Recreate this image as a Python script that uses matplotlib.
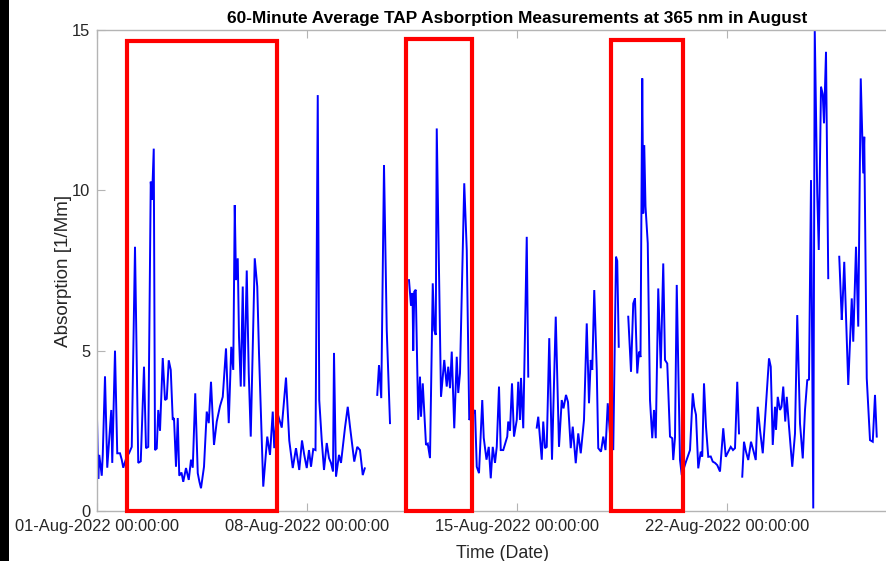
import numpy as np
import pandas as pd
import matplotlib
matplotlib.use("Agg")
import matplotlib.pyplot as plt
import matplotlib.dates as mdates
from matplotlib.patches import Rectangle

plt.rcParams["font.family"] = ["Liberation Sans", "DejaVu Sans"]

START = pd.Timestamp("2022-08-01 00:00:00")

# Hourly-averaged TAP absorption at 365 nm [1/Mm]; hours counted from 01-Aug 00:00.
# Each block is one continuous run of valid averages; gaps are missing data.
hours_aug01_09 = [0.0, 1.0, 1.8, 3.8, 4.6, 6.4, 8.2, 11.4, 12.2, 14.4, 16.2, 18.4, 19.8, 21.0,
                  23.8, 25.6, 27.8, 30.4, 33.0, 35.0, 37.6, 39.2, 41.0, 43.0, 44.0, 45.4, 46.4,
                  47.8, 49.0, 50.4, 52.6, 54.4, 55.8, 57.4, 59.0, 60.6, 61.6, 63.2, 64.6, 65.8,
                  67.6, 69.0, 71.2, 73.4, 75.2, 76.6, 78.6, 80.6, 82.0, 83.2, 85.6, 87.8, 89.4,
                  91.2, 93.6, 95.8, 98.4, 100.6, 103.2, 105.4, 107.4, 109.0, 110.2, 111.2, 112.6,
                  113.6, 115.0, 116.6, 117.8, 119.8, 121.4, 123.0, 126.2, 128.2, 129.6, 133.0,
                  136.2, 138.4, 140.6, 141.8, 144.0, 147.8, 151.2, 153.8, 156.6, 159.2, 161.8,
                  164.0, 165.8, 167.8, 169.6, 171.2, 173.0, 174.8, 176.6, 177.8, 179.8, 181.6,
                  183.8, 185.6, 187.2, 188.8, 189.6, 191.2, 193.6, 195.2, 198.4, 200.6, 202.4,
                  205.8, 208.2, 210.4, 212.6, 214.2]
abs_aug01_09 = [2.9, 1.0, 1.75, 1.1, 1.75, 4.2, 1.35, 3.15, 1.5, 5.0, 1.8, 1.8, 1.6, 1.35,
                1.7, 1.8, 2.0, 8.24, 1.5, 1.55, 4.5, 1.96, 2.0, 10.27, 9.7, 11.3, 1.9,
                1.95, 3.15, 2.5, 4.77, 3.46, 3.5, 4.7, 4.4, 2.84, 2.9, 1.38, 2.9, 1.1,
                1.2, 0.91, 1.34, 0.97, 1.6, 1.35, 3.67, 1.18, 0.9, 0.71, 1.38, 3.1, 2.74,
                4.03, 2.06, 2.79, 3.27, 3.56, 5.07, 2.74, 5.12, 4.4, 9.54, 7.2, 7.88,
                5.43, 3.88, 7.0, 3.88, 7.5, 4.3, 2.32, 7.88, 7.0, 4.92, 0.76,
                2.32, 1.75, 3.1, 1.96, 3.1, 2.6, 4.16, 2.2, 1.34, 1.96, 1.28,
                2.2, 1.75, 1.34, 1.9, 1.38, 1.93, 1.9, 12.97, 3.46, 2.2, 1.28,
                2.12, 1.65, 1.5, 1.23, 4.93, 1.07, 1.75, 1.5, 2.6, 3.25, 2.63,
                1.54, 2.0, 1.9, 1.12, 1.33]

hours_aug10 = [224.2, 225.6, 227.4, 229.6, 231.8, 234.4]
abs_aug10 = [3.62, 4.55, 3.52, 10.79, 5.64, 2.74]

hours_aug11_15 = [249.6, 251.2, 252.4, 253.0, 253.8, 255.0, 257.0, 258.4, 259.2, 260.6, 263.2,
                  264.6, 266.4, 268.6, 269.8, 271.0, 271.8, 275.2, 277.8, 279.8, 281.0, 282.4,
                  283.8, 285.8, 287.8, 289.0, 290.4, 293.8, 295.8, 297.8, 299.0, 302.4, 303.8,
                  305.6, 308.2, 309.4, 311.6, 313.4, 315.0, 316.6, 318.4, 319.8, 321.6, 323.0,
                  325.0, 328.2, 329.0, 330.4, 332.0, 333.6, 335.8, 337.0, 338.4, 339.2, 341.0,
                  343.8, 345.0]
abs_aug11_15 = [7.2, 6.4, 6.8, 5.0, 6.84, 6.9, 2.84, 4.19, 2.94, 3.98, 2.06,
                2.1, 1.65, 7.1, 5.64, 5.49, 11.93, 3.56, 4.71, 3.88, 4.5, 3.83,
                4.97, 2.58, 4.81, 3.68, 4.3, 10.22, 8.14, 2.84, 2.9, 3.15, 1.38,
                1.18, 3.46, 2.28, 1.6, 2.0, 1.02, 2.0, 1.5, 2.0, 3.88, 1.9,
                1.9, 2.32, 2.79, 2.5, 3.98, 2.32, 2.84, 4.03, 2.84, 4.15, 2.58,
                8.55, 4.19]

hours_aug15_18 = [351.8, 353.0, 355.8, 357.0, 358.4, 359.8, 361.8, 364.0, 367.0, 369.6, 371.8,
                  373.2, 375.2, 376.8, 379.0, 380.6, 383.0, 385.0, 387.0, 389.6, 391.8, 393.6,
                  395.0, 396.2, 397.8, 399.8, 401.0, 403.2, 405.0, 406.8, 408.6, 410.4, 413.0,
                  415.2, 416.2, 417.4]
abs_aug15_18 = [2.6, 2.94, 1.6, 2.79, 1.96, 2.0, 5.39, 1.6, 6.06, 2.0, 3.46,
                3.2, 3.62, 3.4, 1.96, 2.63, 1.49, 2.42, 1.8, 2.84, 5.85, 3.36,
                4.71, 4.4, 6.89, 4.4, 1.96, 1.85, 2.32, 1.9, 3.36, 2.4, 1.9,
                7.93, 7.8, 5.12]

hours_aug18_22 = [425.0, 427.2, 429.0, 430.4, 432.2, 433.6, 434.8, 436.2, 437.0, 437.8, 438.8,
                  440.6, 442.4, 444.2, 445.6, 447.0, 449.0, 451.0, 453.0, 454.4, 456.2, 458.4,
                  460.2, 461.0, 462.4, 463.8, 465.0, 466.4, 467.8, 471.2, 474.4, 476.6, 477.8,
                  479.2, 481.0, 483.0, 484.2, 485.6, 487.2, 489.0, 491.0, 492.6, 494.4, 496.2,
                  498.4, 501.0, 503.0, 505.0, 507.0, 508.8, 510.4, 512.2, 513.6]
abs_aug18_22 = [6.06, 4.34, 6.47, 6.63, 4.29, 4.97, 4.8, 13.49, 9.28, 11.41, 9.5,
                8.35, 3.46, 2.27, 3.15, 2.27, 6.94, 4.45, 7.72, 4.71, 4.6, 2.32,
                2.27, 1.59, 2.3, 7.05, 4.5, 1.59, 1.12, 1.54, 1.9, 3.67, 3.25,
                3.0, 1.33, 1.85, 1.7, 3.98, 2.63, 1.69, 1.7, 1.54, 1.5, 1.43,
                1.23, 2.58, 1.69, 1.85, 2.0, 1.9, 1.96, 4.03, 2.42]

hours_aug22_25 = [516.2, 517.6, 519.2, 521.0, 523.2, 525.0, 527.0, 528.6, 530.4, 532.6, 534.4,
                  537.6, 539.0, 540.6, 542.4, 543.2, 544.6, 546.4, 547.6, 549.0, 550.6, 551.8,
                  553.6, 556.2, 558.4, 560.2, 562.4, 564.6, 566.4, 568.2, 569.6, 571.2, 573.0,
                  574.2, 576.2, 577.4, 579.2, 580.6, 581.6, 583.2, 585.0]
abs_aug22_25 = [1.07, 2.16, 1.85, 1.59, 2.16, 1.9, 1.59, 3.25, 2.53, 1.8, 2.84,
                4.76, 4.5, 2.06, 3.25, 2.53, 3.56, 3.15, 3.25, 3.88, 2.79, 3.56,
                2.63, 1.38, 2.42, 6.11, 2.73, 1.64, 3.15, 4.08, 4.1, 10.32, 0.08,
                15.0, 9.9, 8.14, 13.23, 13.0, 12.09, 14.32, 7.26]

hours_aug25_27 = [593.8, 595.0, 595.8, 596.6, 597.8, 599.8, 601.0, 603.8, 605.0, 607.2, 609.0,
                  611.0, 613.0, 613.8, 615.8, 617.0, 618.4, 620.6, 622.4, 623.8]
abs_aug25_27 = [7.93, 6.79, 5.96, 6.6, 7.77, 5.33, 3.93, 6.63, 5.28, 8.24, 5.75,
                13.49, 10.53, 11.67, 4.14, 3.25, 2.21, 2.16, 3.62, 2.32]

segments = [
    (hours_aug01_09, abs_aug01_09),
    (hours_aug10, abs_aug10),
    (hours_aug11_15, abs_aug11_15),
    (hours_aug15_18, abs_aug15_18),
    (hours_aug18_22, abs_aug18_22),
    (hours_aug22_25, abs_aug22_25),
    (hours_aug25_27, abs_aug25_27),
]

# Highlighted periods (start, end) as hours from 01-Aug 00:00
highlight_windows = [(24.0, 144.0), (247.2, 300.0), (411.2, 468.8)]
highlight_top = [14.66, 14.72, 14.69]

tick_dates = ["2022-08-01", "2022-08-08", "2022-08-15", "2022-08-22"]

# Join runs with NaN breaks so missing hours stay blank
t_all, v_all = [], []
for hrs, vals in segments:
    t_all.extend(hrs)
    v_all.extend(vals)
    t_all.append(hrs[-1] + 0.5)
    v_all.append(np.nan)
times = START + pd.to_timedelta(np.array(t_all), unit="h")
values = np.array(v_all, dtype=float)

W, H = 887, 561
fig = plt.figure(figsize=(W / 100, H / 100), dpi=100)
fig.patch.set_facecolor("white")

left_px, right_px, top_px, bottom_px = 97, 937, 30, 511
ax = fig.add_axes([left_px / W, (H - bottom_px) / H,
                   (right_px - left_px) / W, (bottom_px - top_px) / H])

ax.plot(times, values, color="#0000ff", lw=1.4, solid_joinstyle="miter")

ax.set_xlim(START, START + pd.Timedelta(days=28))
ax.set_ylim(0, 15)
ax.set_yticks([0, 5, 10, 15])
ax.set_xticks(pd.to_datetime(tick_dates))
ax.xaxis.set_major_formatter(mdates.DateFormatter("%d-%b-%Y %H:%M:%S"))

spine_col = "#b4b4b4"
for s in ax.spines.values():
    s.set_color(spine_col)
    s.set_linewidth(1.0)
ax.tick_params(axis="both", direction="in", length=6, width=0.8, color=spine_col,
               labelsize=11.9, labelcolor="#262626", top=True, right=True)
ax.tick_params(axis="x", pad=6)
ax.tick_params(axis="y", pad=5)

ax.set_title("60-Minute Average TAP Asborption Measurements at 365 nm in August",
             fontsize=12.4, fontweight="bold", color="black", pad=5)
ax.set_xlabel("Time (Date)", fontsize=12.8, color="#262626")
ax.xaxis.set_label_coords((503 - left_px) / (right_px - left_px), -0.07)
ax.set_ylabel("Absorption [1/Mm]", fontsize=13.6, color="#262626")
ax.yaxis.set_label_coords(-(left_px - 72) / (right_px - left_px), 0.5)

# Red outlines around the highlighted periods
for (h0, h1), top in zip(highlight_windows, highlight_top):
    x0 = mdates.date2num(START + pd.Timedelta(hours=h0))
    x1 = mdates.date2num(START + pd.Timedelta(hours=h1))
    ax.add_patch(Rectangle((x0, 0.0), x1 - x0, top, fill=False,
                           edgecolor="#ff0000", lw=3.0, clip_on=False, zorder=5))

# Dark strip along the left edge of the canvas
fig.add_artist(Rectangle((0, 0), 9 / W, 1, transform=fig.transFigure,
                         facecolor="black", edgecolor="none"))

fig.savefig("out.png", dpi=100)
